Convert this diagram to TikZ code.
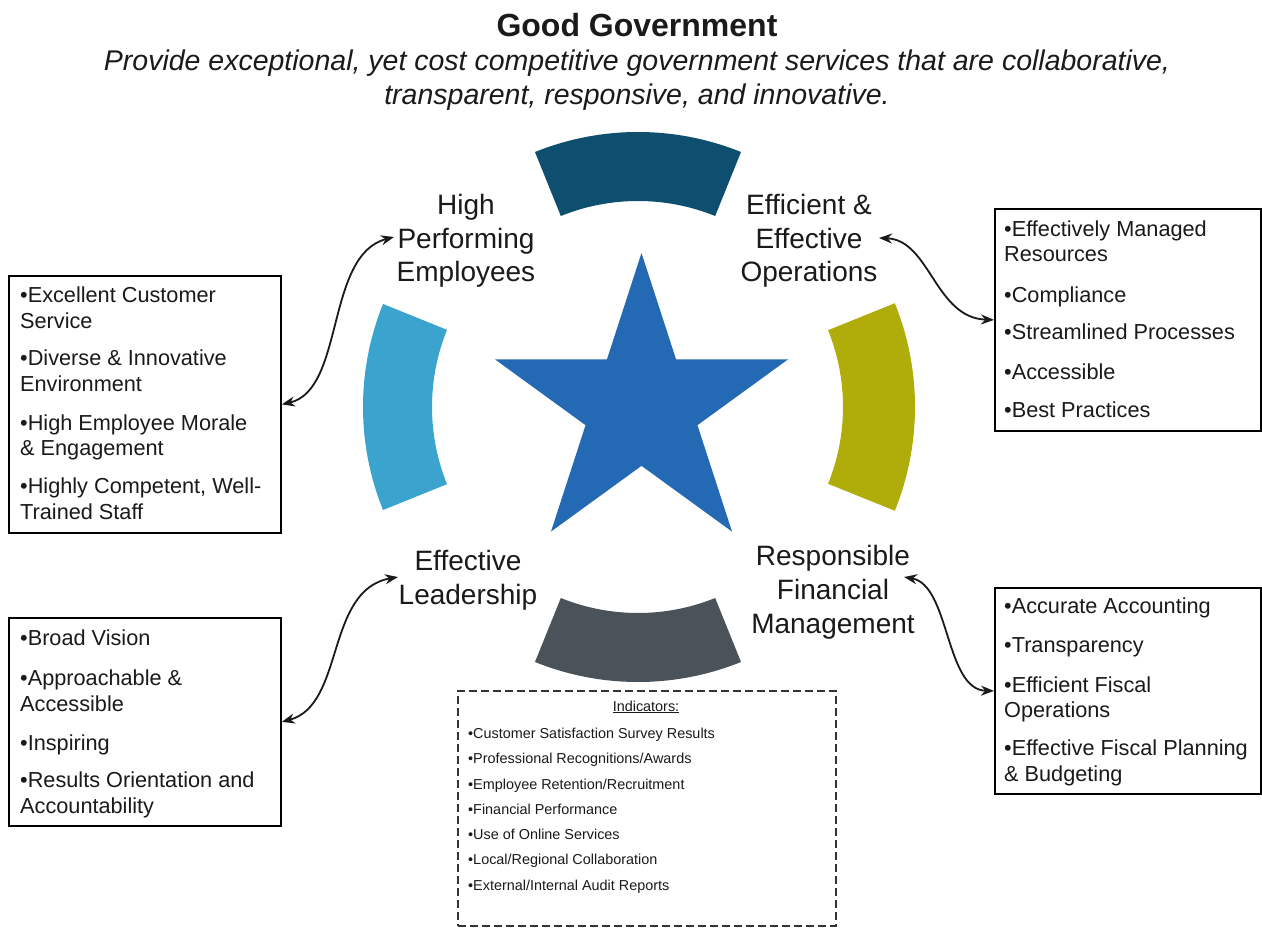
\documentclass[tikz,border=0pt]{standalone}
\usepackage{fontspec}
\setmainfont{Liberation Sans}
\usetikzlibrary{arrows.meta,shapes.geometric,calc}
\definecolor{arcTop}{HTML}{0E4E6E}
\definecolor{arcLeft}{HTML}{3AA3CE}
\definecolor{arcRight}{HTML}{B0AD0A}
\definecolor{arcBottom}{HTML}{4A5359}
\definecolor{starBlue}{HTML}{2469B3}
\definecolor{ink}{HTML}{1A1A1A}
\begin{document}
\begin{tikzpicture}[x=1pt,y=-1pt,
  boxtext/.style={font=\fontsize{21.7}{26}\selectfont, text=ink, inner sep=0pt, anchor=base west},
  lbl/.style={font=\fontsize{28}{33}\selectfont, text=ink, inner sep=0pt, anchor=base},
  indtext/.style={font=\fontsize{14.4}{17}\selectfont, text=ink, inner sep=0pt, anchor=base west},
  infobox/.style={draw=black, line width=1.8pt, inner sep=0pt, anchor=north west},
  indbox/.style={draw=black!80, line width=1.6pt, dash pattern=on 8pt off 4pt, inner sep=0pt, anchor=north west},
  link/.style={{Stealth[length=13pt,width=10pt]}-{Stealth[length=13pt,width=10pt]}, line width=1.8pt, draw=ink},
]
\useasboundingbox (0,0) rectangle (1262,928);
\fill[white] (0,0) rectangle (1262,928);

% title
\node[font=\bfseries\fontsize{32}{38}\selectfont, text=ink, inner sep=0pt, anchor=base] (title) at (637,37) {Good Government};
\node[font=\itshape\fontsize{28.5}{34}\selectfont, text=ink, inner sep=0pt, anchor=base] (sub1) at (637,71) {Provide exceptional, yet cost competitive government services that are collaborative,};
\node[font=\itshape\fontsize{28.5}{34}\selectfont, text=ink, inner sep=0pt, anchor=base] (sub2) at (637,105) {transparent, responsive, and innovative.};

% ring
\coordinate (rc) at (638,407);
\fill[arcTop] ($(rc)+(68:275pt)$) arc[start angle=68, end angle=112, radius=275pt] -- ($(rc)+(112:206pt)$) arc[start angle=112, end angle=68, radius=206pt] -- cycle;
\fill[arcLeft] ($(rc)+(158:275pt)$) arc[start angle=158, end angle=202, radius=275pt] -- ($(rc)+(202:206pt)$) arc[start angle=202, end angle=158, radius=206pt] -- cycle;
\fill[arcBottom] ($(rc)+(248:275pt)$) arc[start angle=248, end angle=292, radius=275pt] -- ($(rc)+(292:206pt)$) arc[start angle=292, end angle=248, radius=206pt] -- cycle;
\fill[arcRight] ($(rc)+(-22:277pt)$) arc[start angle=-22, end angle=22, radius=277pt] -- ($(rc)+(22:205pt)$) arc[start angle=22, end angle=-22, radius=205pt] -- cycle;

% star
\node[star, star points=5, star point ratio=2.618, minimum size=308pt, inner sep=0pt, fill=starBlue, draw=none] (star) at (641.5,407) {};

% labels
\foreach \y/\t [count=\i] in {215/{High}, 249/{Performing}, 282/{Employees}}
  \node[lbl] (hpe\i) at (466,\y) {\t};
\foreach \y/\t [count=\i] in {215/{Efficient \&}, 249/{Effective}, 282/{Operations}}
  \node[lbl] (eeo\i) at (809,\y) {\t};
\foreach \y/\t [count=\i] in {570/{Effective}, 604/{Leadership}}
  \node[lbl] (el\i) at (468,\y) {\t};
\foreach \y/\t [count=\i] in {565/{Responsible}, 599/{Financial}, 633/{Management}}
  \node[lbl] (rfm\i) at (833,\y) {\t};

% boxes
\node[infobox, minimum width=272pt, minimum height=257pt] (bHPE) at (8,275) {};
\node[infobox, minimum width=266pt, minimum height=222pt] (bEEO) at (994,208) {};
\node[infobox, minimum width=272pt, minimum height=208pt] (bEL) at (8,617) {};
\node[infobox, minimum width=266pt, minimum height=206pt] (bRFM) at (994,587) {};
\node[indbox, minimum width=378pt, minimum height=235pt] (bInd) at (457,690) {};

\foreach \y/\t [count=\i] in {303/{•Excellent Customer}, 328/{Service}, 366/{•Diverse \& Innovative}, 391/{Environment}, 430/{•High Employee Morale}, 455/{\& Engagement}, 493/{•Highly Competent, Well-}, 519/{Trained Staff}}
  \node[boxtext] (thpe\i) at (20,\y) {\t};
\foreach \y/\t [count=\i] in {237/{•Effectively Managed}, 262/{Resources}, 302/{•Compliance}, 340/{•Streamlined Processes}, 379/{•Accessible}, 417/{•Best Practices}}
  \node[boxtext] (teeo\i) at (1004,\y) {\t};
\foreach \y/\t [count=\i] in {645/{•Broad Vision}, 685/{•Approachable \&}, 711/{Accessible}, 750/{•Inspiring}, 787/{•Results Orientation and}, 813/{Accountability}}
  \node[boxtext] (tel\i) at (20,\y) {\t};
\foreach \y/\t [count=\i] in {613/{•Accurate Accounting}, 652/{•Transparency}, 692/{•Efficient Fiscal}, 717/{Operations}, 755/{•Effective Fiscal Planning}, 781/{\& Budgeting}}
  \node[boxtext] (trfm\i) at (1004,\y) {\t};

\node[font=\fontsize{14.4}{17}\selectfont, text=ink, inner sep=0pt, anchor=base] (indh) at (646,711) {\underline{Indicators:}};
\foreach \y/\t [count=\i] in {738/{•Customer Satisfaction Survey Results}, 763.5/{•Professional Recognitions/Awards}, 789/{•Employee Retention/Recruitment}, 814/{•Financial Performance}, 839/{•Use of Online Services}, 864.5/{•Local/Regional Collaboration}, 890/{•External/Internal Audit Reports}}
  \node[indtext] (tind\i) at (468,\y) {\t};

% connectors
\coordinate (tHPE) at (394,237);
\coordinate (tEEO) at (879,238);
\coordinate (tEL) at (398,577);
\coordinate (tRFM) at (904,577);
\draw[link] (bHPE.east) .. controls (345,390) and (325,255) .. (tHPE);
\draw[link] (tEEO) .. controls (930,240) and (935,318) .. (bEEO.west);
\draw[link] (bEL.east) .. controls (345,705) and (325,590) .. (tEL);
\draw[link] (tRFM) .. controls (950,585) and (945,690) .. (bRFM.west);
\end{tikzpicture}
\end{document}
